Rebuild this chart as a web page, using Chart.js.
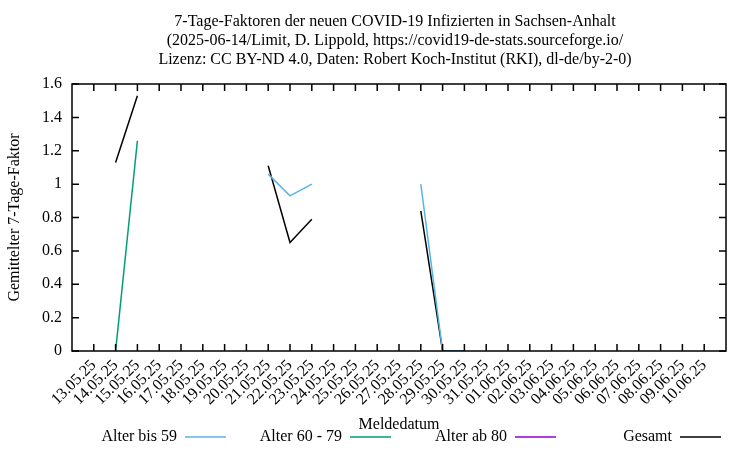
<!DOCTYPE html>
<html>
<head>
<meta charset="utf-8">
<script src="https://cdn.jsdelivr.net/npm/chart.js@4.4.1/dist/chart.umd.min.js"></script>
<style>
  html, body { margin: 0; padding: 0; background: #fff; }
  #wrap { width: 750px; height: 450px; }
</style>
</head>
<body>
<div id="wrap"><canvas id="chart"></canvas></div>
<script>
// Meldedatum ticks (12.05 and 11.06 are the empty ends of the axis)
const dates = [
  "13.05.25", "14.05.25", "15.05.25", "16.05.25", "17.05.25", "18.05.25",
  "19.05.25", "20.05.25", "21.05.25", "22.05.25", "23.05.25", "24.05.25",
  "25.05.25", "26.05.25", "27.05.25", "28.05.25", "29.05.25", "30.05.25",
  "31.05.25", "01.06.25", "02.06.25", "03.06.25", "04.06.25", "05.06.25",
  "06.06.25", "07.06.25", "08.06.25", "09.06.25", "10.06.25"
];

const titleLines = [
  "7-Tage-Faktoren der neuen COVID-19 Infizierten in Sachsen-Anhalt",
  "(2025-06-14/Limit, D. Lippold, https://covid19-de-stats.sourceforge.io/",
  "Lizenz: CC BY-ND 4.0, Daten: Robert Koch-Institut (RKI), dl-de/by-2-0)"
];

const yTicks = [0, 0.2, 0.4, 0.6, 0.8, 1, 1.2, 1.4, 1.6];

// one value per date, null = no value (gap in line)
const bis59 = [null, null, null, null, null, null, null, null, 1.06, 0.93, 1.00, null,
  null, null, null, 1.00, 0, 0, null, null, null, null, null, null, null, null, null, null, null];
const alter6079 = [null, 0, 1.26, null, null, null, null, null, null, null, null, null,
  null, null, null, null, null, null, null, null, null, null, null, null, null, null, null, null, null];
const ab80 = [null, null, null, null, null, null, null, null, null, null, null, null,
  null, null, null, null, null, null, null, null, null, null, null, null, null, null, null, null, null];
const gesamt = [null, 1.13, 1.53, null, null, null, null, null, 1.11, 0.65, 0.79, null,
  null, null, null, 0.84, 0, 0, null, null, null, null, null, null, null, null, null, null, null];

const serif = "'Liberation Serif', 'DejaVu Serif', serif";

function toPoints(arr) {
  return arr.map((v, i) => ({ x: i + 1, y: v }));
}

const series = [
  { label: "Alter bis 59", data: bis59, color: "#56b4e9" },
  { label: "Alter 60 - 79", data: alter6079, color: "#009e73" },
  { label: "Alter ab 80", data: ab80, color: "#9400d3" },
  { label: "Gesamt", data: gesamt, color: "#000000" }
];

// frame, inward ticks, title and legend like gnuplot
const gnuplotLook = {
  id: "gnuplotLook",
  afterDraw(chart) {
    const ctx = chart.ctx;
    const a = chart.chartArea;
    const xs = chart.scales.x;
    const ys = chart.scales.y;
    const tl = 7;
    ctx.save();
    ctx.strokeStyle = "#000";
    ctx.lineWidth = 1.5;
    ctx.beginPath();
    dates.forEach((d, i) => {
      const px = xs.getPixelForValue(i + 1);
      ctx.moveTo(px, a.bottom); ctx.lineTo(px, a.bottom - tl);
      ctx.moveTo(px, a.top); ctx.lineTo(px, a.top + tl);
    });
    yTicks.forEach(v => {
      const py = ys.getPixelForValue(v);
      ctx.moveTo(a.left, py); ctx.lineTo(a.left + tl, py);
      ctx.moveTo(a.right, py); ctx.lineTo(a.right - tl, py);
    });
    ctx.stroke();
    ctx.strokeRect(a.left, a.top, a.right - a.left, a.bottom - a.top);

    // title
    ctx.fillStyle = "#000";
    ctx.font = "16px " + serif;
    ctx.textAlign = "center";
    ctx.textBaseline = "middle";
    titleLines.forEach((t, i) => ctx.fillText(t, 395, 22 + i * 19));

    // legend
    const y = 437;
    chart.data.datasets.forEach((ds, i) => {
      const x0 = 185 + i * 165;
      ctx.textAlign = "right";
      ctx.fillText(ds.label, x0 - 8, y);
      ctx.strokeStyle = ds.borderColor;
      ctx.lineWidth = 1.5;
      ctx.beginPath();
      ctx.moveTo(x0, y); ctx.lineTo(x0 + 41, y);
      ctx.stroke();
    });
    ctx.restore();
  }
};

new Chart(document.getElementById("chart"), {
  type: "line",
  data: {
    datasets: series.map(s => ({
      label: s.label,
      data: toPoints(s.data),
      borderColor: s.color,
      backgroundColor: s.color,
      borderWidth: 1.5,
      pointRadius: 0,
      tension: 0,
      spanGaps: false
    }))
  },
  options: {
    responsive: true,
    maintainAspectRatio: false,
    animation: false,
    layout: { padding: { top: 84, right: 24, bottom: 0, left: 0 } },
    plugins: {
      legend: { display: false },
      title: { display: false },
      tooltip: { enabled: false }
    },
    scales: {
      x: {
        type: "linear",
        min: 0,
        max: dates.length + 1,
        afterFit: s => { s.height = 99; },
        grid: { display: false, drawTicks: false },
        border: { display: false },
        ticks: {
          stepSize: 1,
          autoSkip: false,
          minRotation: 45,
          maxRotation: 45,
          padding: 5,
          color: "#000",
          font: { family: serif, size: 16 },
          callback: v => dates[v - 1] || ""
        },
        title: {
          display: true,
          text: "Meldedatum",
          color: "#000",
          font: { family: serif, size: 16 },
          padding: 16
        }
      },
      y: {
        min: 0,
        max: 1.6,
        afterFit: s => { s.width = 72; },
        afterBuildTicks: s => { s.ticks = yTicks.map(v => ({ value: v })); },
        grid: { display: false, drawTicks: false },
        border: { display: false },
        ticks: {
          padding: 10,
          color: "#000",
          font: { family: serif, size: 16 },
          callback: v => String(v)
        },
        title: {
          display: true,
          text: "Gemittelter 7-Tage-Faktor",
          color: "#000",
          font: { family: serif, size: 16 },
          padding: 5
        }
      }
    }
  },
  plugins: [gnuplotLook]
});
</script>
</body>
</html>
